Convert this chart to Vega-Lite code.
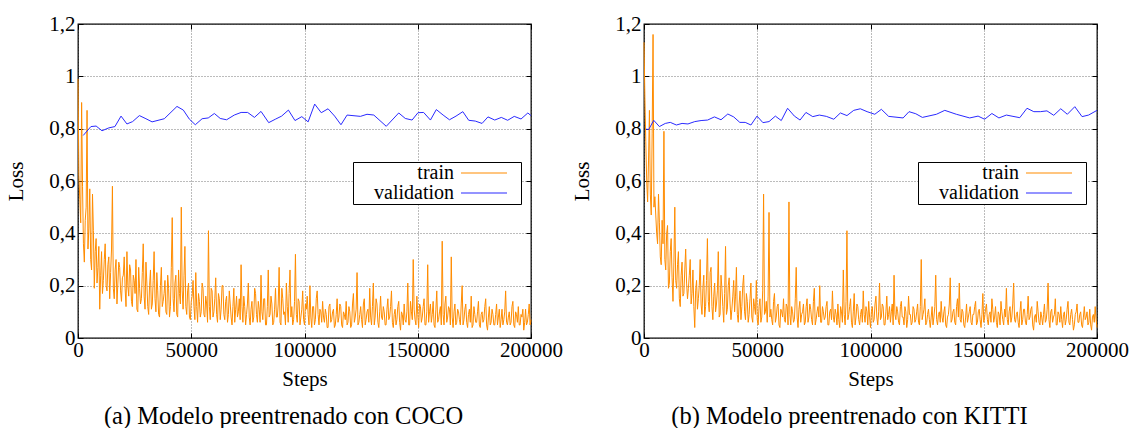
{
"$schema":"https://vega.github.io/schema/vega-lite/v6.json",
"background":"white",
"padding":{"left":5,"top":12,"right":8,"bottom":2},
"config":{"font":"Liberation Serif, Tinos, Times New Roman, DejaVu Serif, serif","view":{"stroke":"black","strokeWidth":1.3},
"axis":{"labelFont":"Liberation Serif, Tinos, Times New Roman, DejaVu Serif, serif","titleFont":"Liberation Serif, Tinos, Times New Roman, DejaVu Serif, serif","labelFontSize":21,"titleFontSize":21,"titleFontWeight":"normal","labelColor":"black","titleColor":"black","gridColor":"#555","gridDash":[1,2],"gridWidth":0.8,"domain":false,"tickColor":"black","tickSize":-5,"labelFlush":false},
"legend":{"labelFont":"Liberation Serif, Tinos, Times New Roman, DejaVu Serif, serif"},
"title":{"font":"Liberation Serif, Tinos, Times New Roman, DejaVu Serif, serif","fontSize":24.5,"fontWeight":"normal","color":"black"}},
"datasets":{
"cocoTrain":[{"step":0,"loss":0.99},{"step":800,"loss":0.53},{"step":1600,"loss":0.90},{"step":2400,"loss":0.36},{"step":3200,"loss":0.45},{"step":4000,"loss":0.87},{"step":4800,"loss":0.42},{"step":5600,"loss":0.30},{"step":6400,"loss":0.55},{"step":7200,"loss":0.19},
{"step":8000,"loss":0.38},{"step":8800,"loss":0.27},{"step":9600,"loss":0.11},{"step":10400,"loss":0.33},{"step":11200,"loss":0.22},{"step":12000,"loss":0.36},{"step":12800,"loss":0.18},{"step":13600,"loss":0.31},{"step":14400,"loss":0.25},{"step":15200,"loss":0.58},
{"step":16000,"loss":0.15},{"step":16800,"loss":0.30},{"step":17600,"loss":0.21},{"step":18400,"loss":0.27},{"step":19200,"loss":0.14},{"step":20000,"loss":0.24},{"step":20800,"loss":0.19},{"step":21600,"loss":0.33},{"step":22400,"loss":0.16},{"step":23200,"loss":0.26},
{"step":24000,"loss":0.12},{"step":24800,"loss":0.22},{"step":25600,"loss":0.30},{"step":26400,"loss":0.10},{"step":27200,"loss":0.19},{"step":28000,"loss":0.15},{"step":28800,"loss":0.36},{"step":29600,"loss":0.11},{"step":30400,"loss":0.21},{"step":31200,"loss":0.09},
{"step":32000,"loss":0.26},{"step":32800,"loss":0.13},{"step":33600,"loss":0.33},{"step":34400,"loss":0.10},{"step":35200,"loss":0.18},{"step":36000,"loss":0.08},{"step":36800,"loss":0.27},{"step":37600,"loss":0.14},{"step":38400,"loss":0.22},{"step":39200,"loss":0.09},
{"step":40000,"loss":0.19},{"step":40800,"loss":0.12},{"step":41600,"loss":0.46},{"step":42400,"loss":0.10},{"step":43200,"loss":0.24},{"step":44000,"loss":0.08},{"step":44800,"loss":0.17},{"step":45600,"loss":0.50},{"step":46400,"loss":0.11},{"step":47200,"loss":0.35},
{"step":48000,"loss":0.09},{"step":48800,"loss":0.21},{"step":49600,"loss":0.07},{"step":50400,"loss":0.16},{"step":51200,"loss":0.12},{"step":52000,"loss":0.25},{"step":52800,"loss":0.06},{"step":53600,"loss":0.14},{"step":54400,"loss":0.10},{"step":55200,"loss":0.19},
{"step":56000,"loss":0.08},{"step":56800,"loss":0.13},{"step":57600,"loss":0.41},{"step":58400,"loss":0.07},{"step":59200,"loss":0.18},{"step":60000,"loss":0.10},{"step":60800,"loss":0.23},{"step":61600,"loss":0.06},{"step":62400,"loss":0.15},{"step":63200,"loss":0.11},
{"step":64000,"loss":0.20},{"step":64800,"loss":0.07},{"step":65600,"loss":0.16},{"step":66400,"loss":0.09},{"step":67200,"loss":0.13},{"step":68000,"loss":0.05},{"step":68800,"loss":0.19},{"step":69600,"loss":0.11},{"step":70400,"loss":0.08},{"step":71200,"loss":0.15},
{"step":72000,"loss":0.28},{"step":72800,"loss":0.06},{"step":73600,"loss":0.12},{"step":74400,"loss":0.09},{"step":75200,"loss":0.21},{"step":76000,"loss":0.05},{"step":76800,"loss":0.14},{"step":77600,"loss":0.08},{"step":78400,"loss":0.17},{"step":79200,"loss":0.06},
{"step":80000,"loss":0.11},{"step":80800,"loss":0.24},{"step":81600,"loss":0.07},{"step":82400,"loss":0.15},{"step":83200,"loss":0.05},{"step":84000,"loss":0.26},{"step":84800,"loss":0.09},{"step":85600,"loss":0.13},{"step":86400,"loss":0.06},{"step":87200,"loss":0.19},
{"step":88000,"loss":0.08},{"step":88800,"loss":0.27},{"step":89600,"loss":0.05},{"step":90400,"loss":0.15},{"step":91200,"loss":0.10},{"step":92000,"loss":0.21},{"step":92800,"loss":0.06},{"step":93600,"loss":0.26},{"step":94400,"loss":0.12},{"step":95200,"loss":0.07},
{"step":96000,"loss":0.32},{"step":96800,"loss":0.06},{"step":97600,"loss":0.14},{"step":98400,"loss":0.08},{"step":99200,"loss":0.18},{"step":100000,"loss":0.05},{"step":100800,"loss":0.11},{"step":101600,"loss":0.09},{"step":102400,"loss":0.20},{"step":103200,"loss":0.04},
{"step":104000,"loss":0.12},{"step":104800,"loss":0.07},{"step":105600,"loss":0.18},{"step":106400,"loss":0.05},{"step":107200,"loss":0.10},{"step":108000,"loss":0.14},{"step":108800,"loss":0.06},{"step":109600,"loss":0.09},{"step":110400,"loss":0.04},{"step":111200,"loss":0.13},
{"step":112000,"loss":0.07},{"step":112800,"loss":0.11},{"step":113600,"loss":0.05},{"step":114400,"loss":0.15},{"step":115200,"loss":0.08},{"step":116000,"loss":0.12},{"step":116800,"loss":0.04},{"step":117600,"loss":0.09},{"step":118400,"loss":0.14},{"step":119200,"loss":0.06},
{"step":120000,"loss":0.10},{"step":120800,"loss":0.05},{"step":121600,"loss":0.17},{"step":122400,"loss":0.08},{"step":123200,"loss":0.25},{"step":124000,"loss":0.06},{"step":124800,"loss":0.12},{"step":125600,"loss":0.04},{"step":126400,"loss":0.15},{"step":127200,"loss":0.07},
{"step":128000,"loss":0.11},{"step":128800,"loss":0.19},{"step":129600,"loss":0.05},{"step":130400,"loss":0.21},{"step":131200,"loss":0.08},{"step":132000,"loss":0.13},{"step":132800,"loss":0.04},{"step":133600,"loss":0.16},{"step":134400,"loss":0.07},{"step":135200,"loss":0.10},
{"step":136000,"loss":0.05},{"step":136800,"loss":0.15},{"step":137600,"loss":0.08},{"step":138400,"loss":0.18},{"step":139200,"loss":0.04},{"step":140000,"loss":0.11},{"step":140800,"loss":0.07},{"step":141600,"loss":0.14},{"step":142400,"loss":0.03},{"step":143200,"loss":0.09},
{"step":144000,"loss":0.13},{"step":144800,"loss":0.06},{"step":145600,"loss":0.21},{"step":146400,"loss":0.05},{"step":147200,"loss":0.10},{"step":148000,"loss":0.30},{"step":148800,"loss":0.07},{"step":149600,"loss":0.16},{"step":150400,"loss":0.04},{"step":151200,"loss":0.12},
{"step":152000,"loss":0.08},{"step":152800,"loss":0.15},{"step":153600,"loss":0.05},{"step":154400,"loss":0.28},{"step":155200,"loss":0.10},{"step":156000,"loss":0.06},{"step":156800,"loss":0.14},{"step":157600,"loss":0.04},{"step":158400,"loss":0.18},{"step":159200,"loss":0.07},
{"step":160000,"loss":0.12},{"step":160800,"loss":0.37},{"step":161600,"loss":0.05},{"step":162400,"loss":0.16},{"step":163200,"loss":0.08},{"step":164000,"loss":0.11},{"step":164800,"loss":0.31},{"step":165600,"loss":0.04},{"step":166400,"loss":0.13},{"step":167200,"loss":0.06},
{"step":168000,"loss":0.10},{"step":168800,"loss":0.05},{"step":169600,"loss":0.20},{"step":170400,"loss":0.07},{"step":171200,"loss":0.13},{"step":172000,"loss":0.04},{"step":172800,"loss":0.11},{"step":173600,"loss":0.16},{"step":174400,"loss":0.05},{"step":175200,"loss":0.09},
{"step":176000,"loss":0.06},{"step":176800,"loss":0.14},{"step":177600,"loss":0.04},{"step":178400,"loss":0.10},{"step":179200,"loss":0.07},{"step":180000,"loss":0.15},{"step":180800,"loss":0.03},{"step":181600,"loss":0.12},{"step":182400,"loss":0.06},{"step":183200,"loss":0.09},
{"step":184000,"loss":0.05},{"step":184800,"loss":0.13},{"step":185600,"loss":0.08},{"step":186400,"loss":0.04},{"step":187200,"loss":0.11},{"step":188000,"loss":0.07},{"step":188800,"loss":0.18},{"step":189600,"loss":0.05},{"step":190400,"loss":0.10},{"step":191200,"loss":0.06},
{"step":192000,"loss":0.14},{"step":192800,"loss":0.04},{"step":193600,"loss":0.09},{"step":194400,"loss":0.12},{"step":195200,"loss":0.05},{"step":196000,"loss":0.08},{"step":196800,"loss":0.03},{"step":197600,"loss":0.11},{"step":198400,"loss":0.06},{"step":199200,"loss":0.13},{"step":200000,"loss":0.07},
{"step":400,"loss":0.62},{"step":1200,"loss":0.44},{"step":2000,"loss":0.58},{"step":2800,"loss":0.29},{"step":3600,"loss":0.50},{"step":4400,"loss":0.34},{"step":5200,"loss":0.57},{"step":6000,"loss":0.26},{"step":6800,"loss":0.41},{"step":7600,"loss":0.33},
{"step":8400,"loss":0.21},{"step":9200,"loss":0.35},{"step":10000,"loss":0.24},{"step":10800,"loss":0.17},{"step":11600,"loss":0.30},{"step":12400,"loss":0.20},{"step":13200,"loss":0.28},{"step":14000,"loss":0.15},{"step":14800,"loss":0.34},{"step":15600,"loss":0.19},
{"step":16400,"loss":0.26},{"step":17200,"loss":0.13},{"step":18000,"loss":0.29},{"step":18800,"loss":0.18},{"step":19600,"loss":0.23},{"step":20400,"loss":0.31},{"step":21200,"loss":0.12},{"step":22000,"loss":0.20},{"step":22800,"loss":0.28},{"step":23600,"loss":0.14},
{"step":24400,"loss":0.24},{"step":25200,"loss":0.17},{"step":26000,"loss":0.11},{"step":26800,"loss":0.27},{"step":27600,"loss":0.13},{"step":28400,"loss":0.25},{"step":29200,"loss":0.16},{"step":30000,"loss":0.29},{"step":30800,"loss":0.12},{"step":31600,"loss":0.20},
{"step":32400,"loss":0.11},{"step":33200,"loss":0.22},{"step":34000,"loss":0.15},{"step":34800,"loss":0.25},{"step":35600,"loss":0.09},{"step":36400,"loss":0.20},{"step":37200,"loss":0.12},{"step":38000,"loss":0.17},{"step":38800,"loss":0.10},{"step":39600,"loss":0.24},
{"step":40400,"loss":0.08},{"step":41200,"loss":0.27},{"step":42000,"loss":0.15},{"step":42800,"loss":0.21},{"step":43600,"loss":0.09},{"step":44400,"loss":0.26},{"step":45200,"loss":0.13},{"step":46000,"loss":0.18},{"step":46800,"loss":0.24},{"step":47600,"loss":0.12},
{"step":48400,"loss":0.18},{"step":49200,"loss":0.08},{"step":50000,"loss":0.14},{"step":50800,"loss":0.22},{"step":51600,"loss":0.07},{"step":52400,"loss":0.12},{"step":53200,"loss":0.17},{"step":54000,"loss":0.08},{"step":54800,"loss":0.21},{"step":55600,"loss":0.09},
{"step":56400,"loss":0.16},{"step":57200,"loss":0.06},{"step":58000,"loss":0.12},{"step":58800,"loss":0.19},{"step":59600,"loss":0.08},{"step":60400,"loss":0.15},{"step":61200,"loss":0.09},{"step":62000,"loss":0.17},{"step":62800,"loss":0.07},{"step":63600,"loss":0.20},
{"step":64400,"loss":0.09},{"step":65200,"loss":0.14},{"step":66000,"loss":0.06},{"step":66800,"loss":0.18},{"step":67600,"loss":0.08},{"step":68400,"loss":0.12},{"step":69200,"loss":0.06},{"step":70000,"loss":0.16},{"step":70800,"loss":0.10},{"step":71600,"loss":0.07},
{"step":72400,"loss":0.12},{"step":73200,"loss":0.16},{"step":74000,"loss":0.05},{"step":74800,"loss":0.13},{"step":75600,"loss":0.08},{"step":76400,"loss":0.11},{"step":77200,"loss":0.06},{"step":78000,"loss":0.19},{"step":78800,"loss":0.09},{"step":79600,"loss":0.14},
{"step":80400,"loss":0.06},{"step":81200,"loss":0.10},{"step":82000,"loss":0.15},{"step":82800,"loss":0.05},{"step":83600,"loss":0.12},{"step":84400,"loss":0.08},{"step":85200,"loss":0.16},{"step":86000,"loss":0.05},{"step":86800,"loss":0.11},{"step":87600,"loss":0.08},
{"step":88400,"loss":0.13},{"step":89200,"loss":0.06},{"step":90000,"loss":0.19},{"step":90800,"loss":0.09},{"step":91600,"loss":0.05},{"step":92400,"loss":0.12},{"step":93200,"loss":0.17},{"step":94000,"loss":0.08},{"step":94800,"loss":0.05},{"step":95600,"loss":0.14},
{"step":96400,"loss":0.09},{"step":97200,"loss":0.15},{"step":98000,"loss":0.05},{"step":98800,"loss":0.11},{"step":99600,"loss":0.07},{"step":100400,"loss":0.13},{"step":101200,"loss":0.16},{"step":102000,"loss":0.05},{"step":102800,"loss":0.08},{"step":103600,"loss":0.12},
{"step":104400,"loss":0.05},{"step":105200,"loss":0.15},{"step":106000,"loss":0.09},{"step":106800,"loss":0.11},{"step":107600,"loss":0.06},{"step":108400,"loss":0.08},{"step":109200,"loss":0.11},{"step":110000,"loss":0.04},{"step":110800,"loss":0.12},{"step":111600,"loss":0.06},
{"step":112400,"loss":0.10},{"step":113200,"loss":0.04},{"step":114000,"loss":0.09},{"step":114800,"loss":0.06},{"step":115600,"loss":0.13},{"step":116400,"loss":0.05},{"step":117200,"loss":0.10},{"step":118000,"loss":0.07},{"step":118800,"loss":0.05},{"step":119600,"loss":0.12},
{"step":120400,"loss":0.04},{"step":121200,"loss":0.13},{"step":122000,"loss":0.06},{"step":122800,"loss":0.11},{"step":123600,"loss":0.05},{"step":124400,"loss":0.09},{"step":125200,"loss":0.07},{"step":126000,"loss":0.13},{"step":126800,"loss":0.05},{"step":127600,"loss":0.10},
{"step":128400,"loss":0.06},{"step":129200,"loss":0.08},{"step":130000,"loss":0.12},{"step":130800,"loss":0.05},{"step":131600,"loss":0.15},{"step":132400,"loss":0.06},{"step":133200,"loss":0.10},{"step":134000,"loss":0.08},{"step":134800,"loss":0.12},{"step":135600,"loss":0.05},
{"step":136400,"loss":0.11},{"step":137200,"loss":0.07},{"step":138000,"loss":0.12},{"step":138800,"loss":0.06},{"step":139600,"loss":0.09},{"step":140400,"loss":0.05},{"step":141200,"loss":0.12},{"step":142000,"loss":0.06},{"step":142800,"loss":0.10},{"step":143600,"loss":0.05},
{"step":144400,"loss":0.07},{"step":145200,"loss":0.10},{"step":146000,"loss":0.05},{"step":146800,"loss":0.14},{"step":147600,"loss":0.07},{"step":148400,"loss":0.11},{"step":149200,"loss":0.05},{"step":150000,"loss":0.09},{"step":150800,"loss":0.13},{"step":151600,"loss":0.06},
{"step":152400,"loss":0.12},{"step":153200,"loss":0.05},{"step":154000,"loss":0.10},{"step":154800,"loss":0.06},{"step":155600,"loss":0.13},{"step":156400,"loss":0.09},{"step":157200,"loss":0.05},{"step":158000,"loss":0.11},{"step":158800,"loss":0.06},{"step":159600,"loss":0.10},
{"step":160400,"loss":0.05},{"step":161200,"loss":0.09},{"step":162000,"loss":0.13},{"step":162800,"loss":0.06},{"step":163600,"loss":0.12},{"step":164400,"loss":0.05},{"step":165200,"loss":0.08},{"step":166000,"loss":0.10},{"step":166800,"loss":0.05},{"step":167600,"loss":0.11},
{"step":168400,"loss":0.07},{"step":169200,"loss":0.13},{"step":170000,"loss":0.05},{"step":170800,"loss":0.11},{"step":171600,"loss":0.06},{"step":172400,"loss":0.09},{"step":173200,"loss":0.06},{"step":174000,"loss":0.04},{"step":174800,"loss":0.12},{"step":175600,"loss":0.06},
{"step":176400,"loss":0.10},{"step":177200,"loss":0.05},{"step":178000,"loss":0.09},{"step":178800,"loss":0.06},{"step":179600,"loss":0.12},{"step":180400,"loss":0.05},{"step":181200,"loss":0.08},{"step":182000,"loss":0.05},{"step":182800,"loss":0.11},{"step":183600,"loss":0.05},
{"step":184400,"loss":0.09},{"step":185200,"loss":0.05},{"step":186000,"loss":0.11},{"step":186800,"loss":0.07},{"step":187600,"loss":0.05},{"step":188400,"loss":0.10},{"step":189200,"loss":0.06},{"step":190000,"loss":0.08},{"step":190800,"loss":0.05},{"step":191600,"loss":0.12},
{"step":192400,"loss":0.05},{"step":193200,"loss":0.10},{"step":194000,"loss":0.06},{"step":194800,"loss":0.05},{"step":195600,"loss":0.09},{"step":196400,"loss":0.11},{"step":197200,"loss":0.06},{"step":198000,"loss":0.05},{"step":198800,"loss":0.09},{"step":199600,"loss":0.05}],
"cocoVal":[{"step":2300,"loss":0.774},{"step":5700,"loss":0.808},{"step":8000,"loss":0.810},{"step":10600,"loss":0.792},{"step":13600,"loss":0.803},{"step":16300,"loss":0.808},{"step":19000,"loss":0.848},{"step":21600,"loss":0.818},{"step":24100,"loss":0.827},{"step":27100,"loss":0.850},{"step":30000,"loss":0.838},{"step":32700,"loss":0.826},{"step":38100,"loss":0.838},{"step":43700,"loss":0.885},{"step":46500,"loss":0.871},{"step":49200,"loss":0.836},{"step":51800,"loss":0.815},{"step":54800,"loss":0.838},{"step":57500,"loss":0.841},{"step":60200,"loss":0.858},{"step":62800,"loss":0.839},{"step":65600,"loss":0.834},{"step":69000,"loss":0.852},{"step":72000,"loss":0.862},{"step":74900,"loss":0.862},{"step":77900,"loss":0.843},{"step":80800,"loss":0.866},{"step":84200,"loss":0.823},{"step":87100,"loss":0.836},{"step":89900,"loss":0.848},{"step":92900,"loss":0.871},{"step":95800,"loss":0.831},{"step":98800,"loss":0.846},{"step":101600,"loss":0.826},{"step":104500,"loss":0.894},{"step":107400,"loss":0.861},{"step":110400,"loss":0.876},{"step":113300,"loss":0.848},{"step":116100,"loss":0.815},{"step":118800,"loss":0.852},{"step":124700,"loss":0.847},{"step":127600,"loss":0.855},{"step":130600,"loss":0.852},{"step":136100,"loss":0.809},{"step":141600,"loss":0.860},{"step":144500,"loss":0.839},{"step":147500,"loss":0.833},{"step":150100,"loss":0.861},{"step":152600,"loss":0.862},{"step":155600,"loss":0.833},{"step":158200,"loss":0.873},{"step":161200,"loss":0.852},{"step":164000,"loss":0.834},{"step":166900,"loss":0.848},{"step":169900,"loss":0.865},{"step":172500,"loss":0.832},{"step":175400,"loss":0.829},{"step":178400,"loss":0.820},{"step":181000,"loss":0.845},{"step":184000,"loss":0.833},{"step":186900,"loss":0.843},{"step":189700,"loss":0.832},{"step":192600,"loss":0.847},{"step":195600,"loss":0.837},{"step":198600,"loss":0.860},{"step":200000,"loss":0.850}],
"kittiTrain":[{"step":0,"loss":1.13},{"step":800,"loss":0.75},{"step":1600,"loss":0.52},{"step":2400,"loss":0.87},{"step":3200,"loss":0.47},{"step":4000,"loss":1.16},{"step":4800,"loss":0.54},{"step":5600,"loss":0.40},{"step":6400,"loss":0.55},{"step":7200,"loss":0.31},
{"step":8000,"loss":0.45},{"step":8800,"loss":0.79},{"step":9600,"loss":0.26},{"step":10400,"loss":0.43},{"step":11200,"loss":0.21},{"step":12000,"loss":0.38},{"step":12800,"loss":0.14},{"step":13600,"loss":0.50},{"step":14400,"loss":0.19},{"step":15200,"loss":0.33},
{"step":16000,"loss":0.12},{"step":16800,"loss":0.29},{"step":17600,"loss":0.17},{"step":18400,"loss":0.34},{"step":19200,"loss":0.15},{"step":20000,"loss":0.24},{"step":20800,"loss":0.13},{"step":21600,"loss":0.26},{"step":22400,"loss":0.04},{"step":23200,"loss":0.22},
{"step":24000,"loss":0.15},{"step":24800,"loss":0.30},{"step":25600,"loss":0.09},{"step":26400,"loss":0.24},{"step":27200,"loss":0.12},{"step":28000,"loss":0.38},{"step":28800,"loss":0.10},{"step":29600,"loss":0.27},{"step":30400,"loss":0.07},{"step":31200,"loss":0.21},
{"step":32000,"loss":0.13},{"step":32800,"loss":0.33},{"step":33600,"loss":0.09},{"step":34400,"loss":0.19},{"step":35200,"loss":0.06},{"step":36000,"loss":0.35},{"step":36800,"loss":0.11},{"step":37600,"loss":0.23},{"step":38400,"loss":0.07},{"step":39200,"loss":0.16},
{"step":40000,"loss":0.10},{"step":40800,"loss":0.27},{"step":41600,"loss":0.06},{"step":42400,"loss":0.18},{"step":43200,"loss":0.12},{"step":44000,"loss":0.24},{"step":44800,"loss":0.07},{"step":45600,"loss":0.14},{"step":46400,"loss":0.09},{"step":47200,"loss":0.21},
{"step":48000,"loss":0.06},{"step":48800,"loss":0.12},{"step":49600,"loss":0.22},{"step":50400,"loss":0.05},{"step":51200,"loss":0.15},{"step":52000,"loss":0.08},{"step":52800,"loss":0.55},{"step":53600,"loss":0.10},{"step":54400,"loss":0.06},{"step":55200,"loss":0.48},
{"step":56000,"loss":0.11},{"step":56800,"loss":0.05},{"step":57600,"loss":0.17},{"step":58400,"loss":0.08},{"step":59200,"loss":0.13},{"step":60000,"loss":0.04},{"step":60800,"loss":0.10},{"step":61600,"loss":0.15},{"step":62400,"loss":0.06},{"step":63200,"loss":0.12},
{"step":64000,"loss":0.52},{"step":64800,"loss":0.05},{"step":65600,"loss":0.10},{"step":66400,"loss":0.07},{"step":67200,"loss":0.27},{"step":68000,"loss":0.04},{"step":68800,"loss":0.14},{"step":69600,"loss":0.09},{"step":70400,"loss":0.13},{"step":71200,"loss":0.06},
{"step":72000,"loss":0.15},{"step":72800,"loss":0.08},{"step":73600,"loss":0.11},{"step":74400,"loss":0.05},{"step":75200,"loss":0.19},{"step":76000,"loss":0.07},{"step":76800,"loss":0.12},{"step":77600,"loss":0.20},{"step":78400,"loss":0.06},{"step":79200,"loss":0.10},
{"step":80000,"loss":0.08},{"step":80800,"loss":0.14},{"step":81600,"loss":0.05},{"step":82400,"loss":0.11},{"step":83200,"loss":0.18},{"step":84000,"loss":0.06},{"step":84800,"loss":0.09},{"step":85600,"loss":0.13},{"step":86400,"loss":0.04},{"step":87200,"loss":0.10},
{"step":88000,"loss":0.26},{"step":88800,"loss":0.05},{"step":89600,"loss":0.41},{"step":90400,"loss":0.09},{"step":91200,"loss":0.15},{"step":92000,"loss":0.04},{"step":92800,"loss":0.17},{"step":93600,"loss":0.08},{"step":94400,"loss":0.12},{"step":95200,"loss":0.05},
{"step":96000,"loss":0.11},{"step":96800,"loss":0.18},{"step":97600,"loss":0.06},{"step":98400,"loss":0.10},{"step":99200,"loss":0.14},{"step":100000,"loss":0.04},{"step":100800,"loss":0.12},{"step":101600,"loss":0.07},{"step":102400,"loss":0.16},{"step":103200,"loss":0.05},
{"step":104000,"loss":0.21},{"step":104800,"loss":0.08},{"step":105600,"loss":0.12},{"step":106400,"loss":0.05},{"step":107200,"loss":0.16},{"step":108000,"loss":0.09},{"step":108800,"loss":0.06},{"step":109600,"loss":0.13},{"step":110400,"loss":0.24},{"step":111200,"loss":0.07},
{"step":112000,"loss":0.10},{"step":112800,"loss":0.05},{"step":113600,"loss":0.14},{"step":114400,"loss":0.08},{"step":115200,"loss":0.12},{"step":116000,"loss":0.04},{"step":116800,"loss":0.16},{"step":117600,"loss":0.09},{"step":118400,"loss":0.06},{"step":119200,"loss":0.11},
{"step":120000,"loss":0.07},{"step":120800,"loss":0.13},{"step":121600,"loss":0.05},{"step":122400,"loss":0.30},{"step":123200,"loss":0.09},{"step":124000,"loss":0.15},{"step":124800,"loss":0.06},{"step":125600,"loss":0.11},{"step":126400,"loss":0.04},{"step":127200,"loss":0.12},
{"step":128000,"loss":0.08},{"step":128800,"loss":0.24},{"step":129600,"loss":0.05},{"step":130400,"loss":0.10},{"step":131200,"loss":0.14},{"step":132000,"loss":0.06},{"step":132800,"loss":0.12},{"step":133600,"loss":0.04},{"step":134400,"loss":0.09},{"step":135200,"loss":0.23},
{"step":136000,"loss":0.07},{"step":136800,"loss":0.11},{"step":137600,"loss":0.05},{"step":138400,"loss":0.15},{"step":139200,"loss":0.21},{"step":140000,"loss":0.06},{"step":140800,"loss":0.10},{"step":141600,"loss":0.04},{"step":142400,"loss":0.13},{"step":143200,"loss":0.08},
{"step":144000,"loss":0.12},{"step":144800,"loss":0.05},{"step":145600,"loss":0.09},{"step":146400,"loss":0.14},{"step":147200,"loss":0.06},{"step":148000,"loss":0.11},{"step":148800,"loss":0.04},{"step":149600,"loss":0.17},{"step":150400,"loss":0.08},{"step":151200,"loss":0.13},
{"step":152000,"loss":0.05},{"step":152800,"loss":0.10},{"step":153600,"loss":0.15},{"step":154400,"loss":0.06},{"step":155200,"loss":0.12},{"step":156000,"loss":0.04},{"step":156800,"loss":0.09},{"step":157600,"loss":0.14},{"step":158400,"loss":0.07},{"step":159200,"loss":0.11},
{"step":160000,"loss":0.19},{"step":160800,"loss":0.05},{"step":161600,"loss":0.12},{"step":162400,"loss":0.08},{"step":163200,"loss":0.21},{"step":164000,"loss":0.06},{"step":164800,"loss":0.10},{"step":165600,"loss":0.04},{"step":166400,"loss":0.14},{"step":167200,"loss":0.07},
{"step":168000,"loss":0.11},{"step":168800,"loss":0.05},{"step":169600,"loss":0.16},{"step":170400,"loss":0.08},{"step":171200,"loss":0.12},{"step":172000,"loss":0.03},{"step":172800,"loss":0.09},{"step":173600,"loss":0.14},{"step":174400,"loss":0.06},{"step":175200,"loss":0.10},
{"step":176000,"loss":0.05},{"step":176800,"loss":0.13},{"step":177600,"loss":0.07},{"step":178400,"loss":0.21},{"step":179200,"loss":0.04},{"step":180000,"loss":0.11},{"step":180800,"loss":0.08},{"step":181600,"loss":0.15},{"step":182400,"loss":0.05},{"step":183200,"loss":0.09},
{"step":184000,"loss":0.12},{"step":184800,"loss":0.04},{"step":185600,"loss":0.10},{"step":186400,"loss":0.07},{"step":187200,"loss":0.14},{"step":188000,"loss":0.05},{"step":188800,"loss":0.11},{"step":189600,"loss":0.03},{"step":190400,"loss":0.09},{"step":191200,"loss":0.13},
{"step":192000,"loss":0.06},{"step":192800,"loss":0.10},{"step":193600,"loss":0.04},{"step":194400,"loss":0.12},{"step":195200,"loss":0.08},{"step":196000,"loss":0.05},{"step":196800,"loss":0.11},{"step":197600,"loss":0.03},{"step":198400,"loss":0.09},{"step":199200,"loss":0.12},{"step":200000,"loss":0.04},
{"step":400,"loss":0.92},{"step":1200,"loss":0.60},{"step":2000,"loss":0.68},{"step":2800,"loss":0.55},{"step":3600,"loss":0.78},{"step":4400,"loss":0.50},{"step":5200,"loss":0.47},{"step":6000,"loss":0.36},{"step":6800,"loss":0.44},{"step":7600,"loss":0.28},
{"step":8400,"loss":0.36},{"step":9200,"loss":0.30},{"step":10000,"loss":0.40},{"step":10800,"loss":0.19},{"step":11600,"loss":0.33},{"step":12400,"loss":0.23},{"step":13200,"loss":0.29},{"step":14000,"loss":0.22},{"step":14800,"loss":0.28},{"step":15600,"loss":0.15},
{"step":16400,"loss":0.24},{"step":17200,"loss":0.16},{"step":18000,"loss":0.26},{"step":18800,"loss":0.21},{"step":19600,"loss":0.19},{"step":20400,"loss":0.30},{"step":21200,"loss":0.17},{"step":22000,"loss":0.12},{"step":22800,"loss":0.18},{"step":23600,"loss":0.11},
{"step":24400,"loss":0.20},{"step":25200,"loss":0.13},{"step":26000,"loss":0.19},{"step":26800,"loss":0.08},{"step":27600,"loss":0.22},{"step":28400,"loss":0.14},{"step":29200,"loss":0.25},{"step":30000,"loss":0.12},{"step":30800,"loss":0.16},{"step":31600,"loss":0.10},
{"step":32400,"loss":0.18},{"step":33200,"loss":0.08},{"step":34000,"loss":0.24},{"step":34800,"loss":0.12},{"step":35600,"loss":0.17},{"step":36400,"loss":0.09},{"step":37200,"loss":0.20},{"step":38000,"loss":0.13},{"step":38800,"loss":0.11},{"step":39600,"loss":0.22},
{"step":40400,"loss":0.16},{"step":41200,"loss":0.09},{"step":42000,"loss":0.13},{"step":42800,"loss":0.07},{"step":43600,"loss":0.20},{"step":44400,"loss":0.10},{"step":45200,"loss":0.17},{"step":46000,"loss":0.06},{"step":46800,"loss":0.15},{"step":47600,"loss":0.08},
{"step":48400,"loss":0.15},{"step":49200,"loss":0.09},{"step":50000,"loss":0.07},{"step":50800,"loss":0.12},{"step":51600,"loss":0.06},{"step":52400,"loss":0.18},{"step":53200,"loss":0.09},{"step":54000,"loss":0.14},{"step":54800,"loss":0.16},{"step":55600,"loss":0.08},
{"step":56400,"loss":0.07},{"step":57200,"loss":0.14},{"step":58000,"loss":0.06},{"step":58800,"loss":0.12},{"step":59600,"loss":0.05},{"step":60400,"loss":0.11},{"step":61200,"loss":0.08},{"step":62000,"loss":0.07},{"step":62800,"loss":0.13},{"step":63600,"loss":0.05},
{"step":64400,"loss":0.09},{"step":65200,"loss":0.12},{"step":66000,"loss":0.06},{"step":66800,"loss":0.15},{"step":67600,"loss":0.08},{"step":68400,"loss":0.11},{"step":69200,"loss":0.06},{"step":70000,"loss":0.10},{"step":70800,"loss":0.05},{"step":71600,"loss":0.12},
{"step":72400,"loss":0.06},{"step":73200,"loss":0.13},{"step":74000,"loss":0.07},{"step":74800,"loss":0.14},{"step":75600,"loss":0.05},{"step":76400,"loss":0.10},{"step":77200,"loss":0.08},{"step":78000,"loss":0.06},{"step":78800,"loss":0.12},{"step":79600,"loss":0.07},
{"step":80400,"loss":0.12},{"step":81200,"loss":0.05},{"step":82000,"loss":0.10},{"step":82800,"loss":0.07},{"step":83600,"loss":0.08},{"step":84400,"loss":0.11},{"step":85200,"loss":0.05},{"step":86000,"loss":0.07},{"step":86800,"loss":0.12},{"step":87600,"loss":0.06},
{"step":88400,"loss":0.09},{"step":89200,"loss":0.14},{"step":90000,"loss":0.07},{"step":90800,"loss":0.12},{"step":91600,"loss":0.06},{"step":92400,"loss":0.10},{"step":93200,"loss":0.05},{"step":94000,"loss":0.13},{"step":94800,"loss":0.07},{"step":95600,"loss":0.09},
{"step":96400,"loss":0.06},{"step":97200,"loss":0.09},{"step":98000,"loss":0.12},{"step":98800,"loss":0.05},{"step":99600,"loss":0.08},{"step":100400,"loss":0.10},{"step":101200,"loss":0.06},{"step":102000,"loss":0.13},{"step":102800,"loss":0.08},{"step":103600,"loss":0.10},
{"step":104400,"loss":0.07},{"step":105200,"loss":0.13},{"step":106000,"loss":0.05},{"step":106800,"loss":0.10},{"step":107600,"loss":0.07},{"step":108400,"loss":0.12},{"step":109200,"loss":0.10},{"step":110000,"loss":0.05},{"step":110800,"loss":0.09},{"step":111600,"loss":0.12},
{"step":112400,"loss":0.06},{"step":113200,"loss":0.12},{"step":114000,"loss":0.08},{"step":114800,"loss":0.05},{"step":115600,"loss":0.10},{"step":116400,"loss":0.07},{"step":117200,"loss":0.09},{"step":118000,"loss":0.05},{"step":118800,"loss":0.12},{"step":119600,"loss":0.06},
{"step":120400,"loss":0.10},{"step":121200,"loss":0.06},{"step":122000,"loss":0.12},{"step":122800,"loss":0.07},{"step":123600,"loss":0.11},{"step":124400,"loss":0.05},{"step":125200,"loss":0.09},{"step":126000,"loss":0.07},{"step":126800,"loss":0.08},{"step":127600,"loss":0.05},
{"step":128400,"loss":0.12},{"step":129200,"loss":0.07},{"step":130000,"loss":0.09},{"step":130800,"loss":0.06},{"step":131600,"loss":0.08},{"step":132400,"loss":0.10},{"step":133200,"loss":0.05},{"step":134000,"loss":0.08},{"step":134800,"loss":0.13},{"step":135600,"loss":0.06},
{"step":136400,"loss":0.10},{"step":137200,"loss":0.06},{"step":138000,"loss":0.12},{"step":138800,"loss":0.08},{"step":139600,"loss":0.07},{"step":140400,"loss":0.11},{"step":141200,"loss":0.05},{"step":142000,"loss":0.08},{"step":142800,"loss":0.06},{"step":143600,"loss":0.10},
{"step":144400,"loss":0.06},{"step":145200,"loss":0.09},{"step":146000,"loss":0.12},{"step":146800,"loss":0.05},{"step":147600,"loss":0.10},{"step":148400,"loss":0.07},{"step":149200,"loss":0.09},{"step":150000,"loss":0.06},{"step":150800,"loss":0.11},{"step":151600,"loss":0.07},
{"step":152400,"loss":0.09},{"step":153200,"loss":0.06},{"step":154000,"loss":0.11},{"step":154800,"loss":0.08},{"step":155600,"loss":0.06},{"step":156400,"loss":0.10},{"step":157200,"loss":0.05},{"step":158000,"loss":0.10},{"step":158800,"loss":0.05},{"step":159600,"loss":0.08},
{"step":160400,"loss":0.07},{"step":161200,"loss":0.10},{"step":162000,"loss":0.06},{"step":162800,"loss":0.13},{"step":163600,"loss":0.07},{"step":164400,"loss":0.09},{"step":165200,"loss":0.06},{"step":166000,"loss":0.10},{"step":166800,"loss":0.05},{"step":167600,"loss":0.11},
{"step":168400,"loss":0.06},{"step":169200,"loss":0.09},{"step":170000,"loss":0.07},{"step":170800,"loss":0.11},{"step":171600,"loss":0.05},{"step":172400,"loss":0.08},{"step":173200,"loss":0.06},{"step":174000,"loss":0.10},{"step":174800,"loss":0.05},{"step":175600,"loss":0.08},
{"step":176400,"loss":0.09},{"step":177200,"loss":0.06},{"step":178000,"loss":0.11},{"step":178800,"loss":0.07},{"step":179600,"loss":0.10},{"step":180400,"loss":0.06},{"step":181200,"loss":0.09},{"step":182000,"loss":0.05},{"step":182800,"loss":0.10},{"step":183600,"loss":0.06},
{"step":184400,"loss":0.07},{"step":185200,"loss":0.09},{"step":186000,"loss":0.05},{"step":186800,"loss":0.11},{"step":187600,"loss":0.06},{"step":188400,"loss":0.09},{"step":189200,"loss":0.07},{"step":190000,"loss":0.05},{"step":190800,"loss":0.10},{"step":191600,"loss":0.06},
{"step":192400,"loss":0.09},{"step":193200,"loss":0.05},{"step":194000,"loss":0.08},{"step":194800,"loss":0.07},{"step":195600,"loss":0.10},{"step":196400,"loss":0.06},{"step":197200,"loss":0.05},{"step":198000,"loss":0.08},{"step":198800,"loss":0.06},{"step":199600,"loss":0.07}],
"kittiVal":[{"step":900,"loss":0.798},{"step":2100,"loss":0.797},{"step":4300,"loss":0.832},{"step":6800,"loss":0.808},{"step":9400,"loss":0.820},{"step":11600,"loss":0.824},{"step":14300,"loss":0.814},{"step":16800,"loss":0.820},{"step":19400,"loss":0.818},{"step":22400,"loss":0.827},{"step":25200,"loss":0.831},{"step":28100,"loss":0.833},{"step":31100,"loss":0.845},{"step":34000,"loss":0.834},{"step":37000,"loss":0.856},{"step":39600,"loss":0.845},{"step":42300,"loss":0.824},{"step":44700,"loss":0.824},{"step":47200,"loss":0.814},{"step":49900,"loss":0.848},{"step":52500,"loss":0.823},{"step":55200,"loss":0.827},{"step":58000,"loss":0.848},{"step":60600,"loss":0.831},{"step":63400,"loss":0.878},{"step":66400,"loss":0.848},{"step":68900,"loss":0.833},{"step":71500,"loss":0.862},{"step":74500,"loss":0.846},{"step":77400,"loss":0.852},{"step":80500,"loss":0.847},{"step":83800,"loss":0.836},{"step":86700,"loss":0.860},{"step":89600,"loss":0.850},{"step":92600,"loss":0.870},{"step":95500,"loss":0.876},{"step":98500,"loss":0.865},{"step":101900,"loss":0.855},{"step":104800,"loss":0.874},{"step":108000,"loss":0.847},{"step":114400,"loss":0.841},{"step":117000,"loss":0.865},{"step":120000,"loss":0.857},{"step":122900,"loss":0.843},{"step":129100,"loss":0.855},{"step":132800,"loss":0.870},{"step":137900,"loss":0.855},{"step":143800,"loss":0.841},{"step":147500,"loss":0.848},{"step":150400,"loss":0.836},{"step":153600,"loss":0.858},{"step":156700,"loss":0.841},{"step":160000,"loss":0.852},{"step":162900,"loss":0.847},{"step":165900,"loss":0.842},{"step":169100,"loss":0.878},{"step":172100,"loss":0.865},{"step":175000,"loss":0.865},{"step":177900,"loss":0.868},{"step":180900,"loss":0.851},{"step":184000,"loss":0.876},{"step":186900,"loss":0.855},{"step":190200,"loss":0.884},{"step":193400,"loss":0.846},{"step":196300,"loss":0.852},{"step":200000,"loss":0.870}]
},
"spacing":113,
"bounds":"flush",
"resolve":{"scale":{"color":"independent"}},
"hconcat":[
{"width":453,"height":314,
"title":{"text":"(a) Modelo preentrenado con COCO","orient":"bottom","anchor":"middle","offset":16,"dx":-21},
"layer":[
{"data":{"name":"cocoTrain"},"mark":{"type":"line","strokeWidth":1},
"encoding":{
"x":{"field":"step","type":"quantitative","scale":{"domain":[0,200000],"nice":false},"axis":{"orient":"bottom","values":[0,50000,100000,150000,200000],"format":"d","grid":true,"title":"Steps","labelPadding":6,"titlePadding":8}},
"y":{"field":"loss","type":"quantitative","scale":{"domain":[0,1.2],"nice":false},"axis":{"orient":"left","values":[0,0.2,0.4,0.6,0.8,1,1.2],"labelExpr":"replace(format(datum.value,'.1~f'),'.',',')","grid":true,"title":"Loss","labelPadding":8,"titlePadding":22}},
"color":{"datum":"train","type":"nominal","scale":{"domain":["train","validation"],"range":["#ff8c00","#2a2aff"]},
"legend":{"orient":"none","legendX":275,"legendY":138,"title":null,"strokeColor":"black","fillColor":"white","padding":1,"symbolType":"M48.5,0H71.5M76.5,0","symbolSize":16,"symbolStrokeWidth":1.2,"labelFontSize":20,"labelColor":"black","labelAlign":"right","labelOffset":80,"rowPadding":-5,"labelLimit":0}}}},
{"data":{"name":"cocoVal"},"mark":{"type":"line","strokeWidth":1},
"encoding":{
"x":{"field":"step","type":"quantitative","axis":{"orient":"top","values":[0,50000,100000,150000,200000],"labels":false,"grid":false,"title":null}},
"y":{"field":"loss","type":"quantitative","axis":{"orient":"right","values":[0,0.2,0.4,0.6,0.8,1,1.2],"labels":false,"grid":false,"title":null}},
"color":{"datum":"validation","type":"nominal"}}}
],
"resolve":{"axis":{"x":"independent","y":"independent"}}},
{"width":453,"height":314,
"title":{"text":"(b) Modelo preentrenado con KITTI","orient":"bottom","anchor":"middle","offset":16,"dx":-21},
"layer":[
{"data":{"name":"kittiTrain"},"mark":{"type":"line","strokeWidth":1},
"encoding":{
"x":{"field":"step","type":"quantitative","scale":{"domain":[0,200000],"nice":false},"axis":{"orient":"bottom","values":[0,50000,100000,150000,200000],"format":"d","grid":true,"title":"Steps","labelPadding":6,"titlePadding":8}},
"y":{"field":"loss","type":"quantitative","scale":{"domain":[0,1.2],"nice":false},"axis":{"orient":"left","values":[0,0.2,0.4,0.6,0.8,1,1.2],"labelExpr":"replace(format(datum.value,'.1~f'),'.',',')","grid":true,"title":"Loss","labelPadding":8,"titlePadding":22}},
"color":{"datum":"train","type":"nominal","scale":{"domain":["train","validation"],"range":["#ff8c00","#2a2aff"]},
"legend":{"orient":"none","legendX":274,"legendY":138,"title":null,"strokeColor":"black","fillColor":"white","padding":1,"symbolType":"M48.5,0H71.5M76.5,0","symbolSize":16,"symbolStrokeWidth":1.2,"labelFontSize":20,"labelColor":"black","labelAlign":"right","labelOffset":80,"rowPadding":-5,"labelLimit":0}}}},
{"data":{"name":"kittiVal"},"mark":{"type":"line","strokeWidth":1},
"encoding":{
"x":{"field":"step","type":"quantitative","axis":{"orient":"top","values":[0,50000,100000,150000,200000],"labels":false,"grid":false,"title":null}},
"y":{"field":"loss","type":"quantitative","axis":{"orient":"right","values":[0,0.2,0.4,0.6,0.8,1,1.2],"labels":false,"grid":false,"title":null}},
"color":{"datum":"validation","type":"nominal"}}}
],
"resolve":{"axis":{"x":"independent","y":"independent"}}}
]
}
